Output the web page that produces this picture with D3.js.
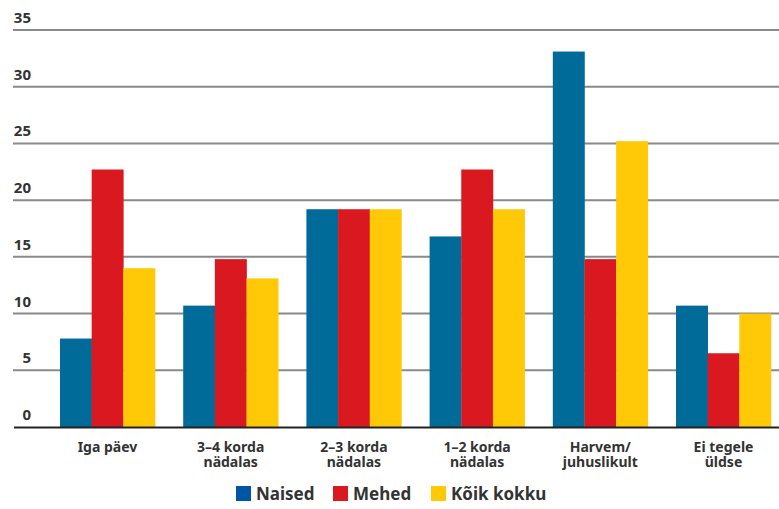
<!DOCTYPE html>
<html>
<head>
<meta charset="utf-8">
<script src="https://d3js.org/d3.v7.min.js"></script>
<style>
body { margin: 0; background: #fff; }
text { font-family: "Noto Sans", "Open Sans", sans-serif; font-weight: 700; fill: #333; }
</style>
</head>
<body>
<svg width="779" height="509"></svg>
<script>
var categories = [["Iga päev"], ["3–4 korda", "nädalas"], ["2–3 korda", "nädalas"],
  ["1–2 korda", "nädalas"], ["Harvem/", "juhuslikult"], ["Ei tegele", "üldse"]];
var seriesNames = ["Naised", "Mehed", "Kõik kokku"];
var naised = [7.8, 10.7, 19.2, 16.8, 33.1, 10.7];
var mehed = [22.7, 14.8, 19.2, 22.7, 14.8, 6.5];
var koik = [14.0, 13.1, 19.2, 19.2, 25.2, 10.0];
var yTicks = [0, 5, 10, 15, 20, 25, 30, 35];

var barColors = ["#006b99", "#da1820", "#ffc907"];
var legendColors = ["#0055a4", "#da1820", "#ffc907"];

var width = 779, height = 509;
var svg = d3.select("svg");

var y = d3.scaleLinear().domain([0, 35]).range([427, 30]);
var x0 = d3.scaleBand()
  .domain(d3.range(categories.length))
  .range([60, 771])
  .paddingInner(0.229)
  .paddingOuter(0);
var x1 = d3.scaleBand()
  .domain(seriesNames)
  .range([0, x0.bandwidth()]);

var values = [naised, mehed, koik];

// gridlines + tick labels
var grid = svg.append("g");
grid.selectAll("line")
  .data(yTicks.filter(d => d > 0))
  .enter().append("line")
  .attr("x1", 13).attr("x2", width)
  .attr("y1", d => y(d)).attr("y2", d => y(d))
  .attr("stroke", "#8a8a8a")
  .attr("stroke-width", 2);
grid.selectAll("text")
  .data(yTicks)
  .enter().append("text")
  .attr("x", 31)
  .attr("y", d => y(d) - 7)
  .attr("text-anchor", "end")
  .style("font-size", "15px")
  .text(d => d);

// bars
var groups = svg.append("g").selectAll("g")
  .data(categories)
  .enter().append("g")
  .attr("transform", (d, i) => "translate(" + x0(i) + ",0)");
groups.selectAll("rect")
  .data((d, i) => seriesNames.map((s, j) => ({ s: s, j: j, v: values[j][i] })))
  .enter().append("rect")
  .attr("x", d => x1(d.s))
  .attr("width", x1.bandwidth() + 0.3)
  .attr("y", d => y(d.v))
  .attr("height", d => y(0) - y(d.v))
  .attr("fill", d => barColors[d.j]);

// baseline
svg.append("line")
  .attr("x1", 14).attr("x2", width)
  .attr("y1", y(0) + 0.5).attr("y2", y(0) + 0.5)
  .attr("stroke", "#222")
  .attr("stroke-width", 2);

// category labels
var lab = svg.append("g").selectAll("text")
  .data(categories)
  .enter().append("text")
  .attr("text-anchor", "middle")
  .attr("x", (d, i) => x0(i) + x0.bandwidth() / 2)
  .attr("y", 452)
  .style("font-size", "14px");
lab.selectAll("tspan")
  .data(d => d)
  .enter().append("tspan")
  .attr("x", function() { return d3.select(this.parentNode).attr("x"); })
  .attr("dy", (d, i) => i === 0 ? 0 : 15)
  .text(d => d);

// legend
var legendX = [236, 333, 431];
var leg = svg.append("g").selectAll("g")
  .data(seriesNames)
  .enter().append("g")
  .attr("transform", (d, i) => "translate(" + legendX[i] + ",486)");
leg.append("rect")
  .attr("width", 15).attr("height", 15)
  .attr("fill", (d, i) => legendColors[i]);
leg.append("text")
  .attr("x", 20).attr("y", 14)
  .style("font-size", "17px")
  .text(d => d);
</script>
</body>
</html>
